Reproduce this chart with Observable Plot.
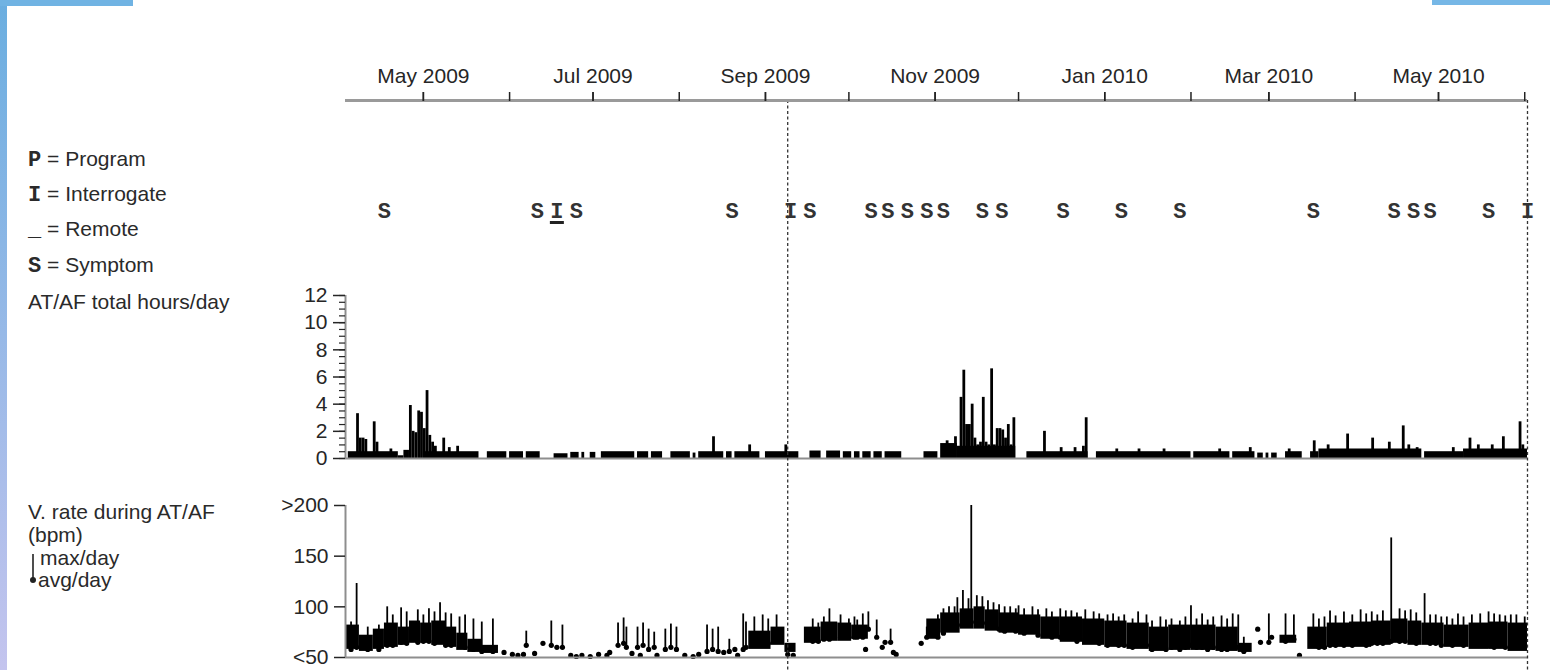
<!DOCTYPE html>
<html><head><meta charset="utf-8">
<script src="https://cdn.jsdelivr.net/npm/d3@7"></script>
<script src="https://cdn.jsdelivr.net/npm/@observablehq/plot@0.6"></script>
<style>
body{margin:0;background:#fff;}
#root{position:relative;width:1550px;height:670px;overflow:hidden;background:#fff;font-family:"Liberation Sans",Arial,sans-serif;color:#2a2a2a;}
#root svg{position:absolute;left:0;overflow:visible;}
.lg{position:absolute;font-size:21px;line-height:22px;white-space:nowrap;}
.mono{font-family:"Liberation Mono",monospace;font-weight:bold;font-size:22px;}
.bar{position:absolute;}
</style></head>
<body><div id="root">
<div class="bar" style="left:0;top:0;width:7px;height:670px;background:linear-gradient(#6aaee0,#c4c4ee);"></div>
<div class="bar" style="left:0;top:0;width:133px;height:6px;background:#70b3e3;"></div>
<div class="bar" style="left:1432px;top:0;width:118px;height:5px;background:#76b7e6;"></div>
<div class="lg" style="left:28px;top:148px;"><span class="mono">P</span> = Program</div>
<div class="lg" style="left:28px;top:183px;"><span class="mono">I</span> = Interrogate</div>
<div class="lg" style="left:28px;top:218px;"><span class="mono">_</span> = Remote</div>
<div class="lg" style="left:28px;top:254px;"><span class="mono">S</span> = Symptom</div>
<div class="lg" style="left:28px;top:291px;">AT/AF total hours/day</div>
<div class="lg" style="left:28px;top:501px;">V. rate during AT/AF</div>
<div class="lg" style="left:28px;top:524px;">(bpm)</div>
<div class="lg" style="left:40px;top:547px;">max/day</div>
<div class="lg" style="left:38px;top:569px;">avg/day</div>
<svg style="position:absolute;left:26px;top:550px;overflow:visible" width="14" height="40"><line x1="7" y1="4" x2="7" y2="30" stroke="#222" stroke-width="1.6"/><circle cx="7" cy="30" r="3" fill="#222"/></svg>
</div>
<script>
// ---------- data ----------
const startDate = "2009-04-03", endDate = "2010-06-02";
const monthTicks = ["2009-05-01","2009-06-01","2009-07-01","2009-08-01","2009-09-01","2009-10-01","2009-11-01","2009-12-01","2010-01-01","2010-02-01","2010-03-01","2010-04-01","2010-05-01","2010-06-01"];
const labelMonths = ["2009-05-01","2009-07-01","2009-09-01","2009-11-01","2010-01-01","2010-03-01","2010-05-01"];
const interrogations = ["2009-09-09","2010-06-02"];
const events = [
 ["2009-04-17","S"],["2009-06-11","S"],["2009-06-18","I"],["2009-06-25","S"],["2009-08-20","S"],
 ["2009-09-10","I"],["2009-09-17","S"],["2009-10-09","S"],["2009-10-15","S"],["2009-10-22","S"],
 ["2009-10-29","S"],["2009-11-04","S"],["2009-11-18","S"],["2009-11-25","S"],["2009-12-17","S"],
 ["2010-01-07","S"],["2010-01-28","S"],["2010-03-17","S"],["2010-04-15","S"],["2010-04-22","S"],
 ["2010-04-28","S"],["2010-05-19","S"],["2010-06-02","I"]
];
const remoteSessions = ["2009-06-18"];

const atafTicks = [0,2,4,6,8,10,12];
const atafMinorTicks = [0,0.5,1,1.5,2,2.5,3,3.5,4,4.5,5,5.5,6,6.5,7,7.5,8,8.5,9,9.5,10,10.5,11,11.5,12];
const atafBands = [
 ["2009-04-04","2009-04-22",0.5],["2009-04-22","2009-04-24",0.2],["2009-04-24","2009-04-26",0.6],
 ["2009-05-01","2009-05-21",0.5],["2009-05-24","2009-05-31",0.5],["2009-06-01","2009-06-06",0.5],
 ["2009-06-07","2009-06-12",0.5],["2009-06-17","2009-06-22",0.35],["2009-06-23","2009-06-26",0.45],
 ["2009-06-27","2009-06-28",0.45],["2009-06-30","2009-07-02",0.45],["2009-07-04","2009-07-16",0.5],
 ["2009-07-17","2009-07-21",0.5],["2009-07-22","2009-07-26",0.5],["2009-07-29","2009-08-05",0.5],
 ["2009-08-06","2009-08-07",0.4],["2009-08-08","2009-08-17",0.5],["2009-08-18","2009-08-20",0.5],
 ["2009-08-21","2009-08-30",0.5],["2009-09-01","2009-09-13",0.5],["2009-09-17","2009-09-21",0.55],
 ["2009-09-23","2009-09-28",0.55],["2009-09-29","2009-10-02",0.5],["2009-10-03","2009-10-05",0.5],
 ["2009-10-06","2009-10-09",0.5],["2009-10-10","2009-10-13",0.5],["2009-10-14","2009-10-20",0.5],
 ["2009-10-28","2009-11-02",0.5],["2009-11-03","2009-11-09",1.1],["2009-11-09","2009-11-30",0.9],
 ["2009-12-04","2009-12-26",0.5],["2009-12-29","2010-02-01",0.5],["2010-02-02","2010-02-15",0.5],
 ["2010-02-16","2010-02-24",0.5],["2010-02-25","2010-02-27",0.4],["2010-02-28","2010-03-01",0.4],
 ["2010-03-02","2010-03-04",0.4],["2010-03-07","2010-03-13",0.5],["2010-03-16","2010-03-19",0.5],
 ["2010-03-19","2010-04-25",0.7],["2010-04-26","2010-05-10",0.5],["2010-05-10","2010-06-02",0.7]
];
const atafSpikes = [
 ["2009-04-07",3.3],["2009-04-08",1.5],["2009-04-09",1.5],["2009-04-10",1.4],["2009-04-13",2.7],["2009-04-14",1.2],["2009-04-19",0.7],
 ["2009-04-26",3.9],["2009-04-27",2.0],["2009-04-28",1.9],["2009-04-29",3.5],["2009-04-30",3.4],["2009-05-01",2.2],["2009-05-02",5.0],
 ["2009-05-03",1.7],["2009-05-04",1.2],["2009-05-05",0.9],["2009-05-08",1.5],["2009-05-10",0.8],["2009-05-13",0.9],
 ["2009-08-13",1.6],["2009-08-26",1.0],["2009-09-08",1.0],
 ["2009-11-05",1.3],["2009-11-08",1.6],["2009-11-10",4.5],["2009-11-11",6.5],["2009-11-12",2.5],["2009-11-13",2.5],
 ["2009-11-14",4.0],["2009-11-15",1.5],["2009-11-16",1.0],["2009-11-17",1.2],["2009-11-18",4.5],["2009-11-19",1.2],
 ["2009-11-20",1.0],["2009-11-21",6.6],["2009-11-22",1.0],["2009-11-23",2.2],["2009-11-24",2.2],["2009-11-25",2.1],
 ["2009-11-26",1.5],["2009-11-27",2.5],["2009-11-28",1.0],["2009-11-29",3.0],
 ["2009-12-10",2.0],["2009-12-16",0.8],["2009-12-21",0.8],["2009-12-24",0.9],["2009-12-25",3.0],
 ["2010-01-05",0.7],["2010-01-13",0.7],["2010-01-22",0.7],["2010-02-11",0.7],["2010-02-22",0.8],["2010-03-08",0.7],["2010-03-17",1.3],
 ["2010-03-22",1.0],["2010-03-29",1.8],["2010-04-07",1.5],["2010-04-13",1.2],["2010-04-18",2.4],["2010-04-20",1.0],["2010-04-23",0.8],
 ["2010-05-06",0.8],["2010-05-12",1.5],["2010-05-15",1.0],["2010-05-20",1.0],["2010-05-24",1.6],["2010-05-30",2.7],["2010-05-31",1.0]
];

const vTicks = [200,150,100,50];
const vTickLabels = [">200","150","100","<50"];
// dense periods: [start, end, typical avg (low edge), typical max (high edge)]
const vBands = [
 ["2009-04-03","2009-04-08",58,82],["2009-04-08","2009-04-13",56,72],["2009-04-13","2009-04-17",58,78],
 ["2009-04-17","2009-04-22",60,84],["2009-04-22","2009-04-26",62,80],["2009-04-26","2009-04-30",64,86],
 ["2009-04-30","2009-05-04",64,84],["2009-05-04","2009-05-09",62,86],["2009-05-09","2009-05-13",60,80],
 ["2009-05-13","2009-05-17",57,74],["2009-05-17","2009-05-22",55,68],["2009-05-22","2009-05-28",54,62],
 ["2009-08-26","2009-09-03",58,76],["2009-09-03","2009-09-08",62,80],["2009-09-08","2009-09-12",55,64],
 ["2009-09-15","2009-09-21",64,80],["2009-09-21","2009-09-27",66,85],["2009-09-27","2009-10-02",66,84],
 ["2009-10-02","2009-10-08",68,82],
 ["2009-10-29","2009-11-03",68,88],["2009-11-03","2009-11-10",74,94],["2009-11-10","2009-11-15",78,98],
 ["2009-11-15","2009-11-19",78,100],["2009-11-19","2009-11-24",76,97],["2009-11-24","2009-12-01",74,94],
 ["2009-12-01","2009-12-09",72,92],["2009-12-09","2009-12-16",68,90],["2009-12-16","2009-12-24",65,90],
 ["2009-12-24","2010-01-01",62,88],["2010-01-01","2010-01-09",60,86],["2010-01-09","2010-01-17",58,84],
 ["2010-01-17","2010-01-24",56,80],["2010-01-24","2010-02-01",57,82],["2010-02-01","2010-02-10",57,82],
 ["2010-02-10","2010-02-18",56,80],["2010-02-18","2010-02-23",55,64],
 ["2010-03-05","2010-03-11",64,72],["2010-03-15","2010-03-22",58,80],["2010-03-22","2010-03-30",60,84],
 ["2010-03-30","2010-04-07",60,85],["2010-04-07","2010-04-14",62,86],["2010-04-14","2010-04-20",64,88],
 ["2010-04-20","2010-04-25",62,86],["2010-04-25","2010-05-03",62,84],["2010-05-03","2010-05-12",60,82],
 ["2010-05-12","2010-05-19",58,84],["2010-05-19","2010-05-26",58,85],["2010-05-26","2010-06-02",56,84]
];
// single days: [date, avg, max]
const vSpikes = [
 ["2009-04-05",58,85],["2009-04-07",60,123],["2009-04-11",58,80],["2009-04-15",58,82],["2009-04-18",62,100],
 ["2009-04-20",62,92],["2009-04-23",65,99],["2009-04-25",64,95],["2009-04-29",65,97],["2009-05-01",66,92],
 ["2009-05-03",66,98],["2009-05-05",64,95],["2009-05-07",66,104],["2009-05-09",62,94],["2009-05-11",62,93],
 ["2009-05-14",62,90],["2009-05-16",60,92],["2009-05-19",58,88],["2009-05-22",56,85],["2009-05-26",56,88],
 ["2009-06-07",62,76],["2009-06-16",62,86],["2009-06-20",60,82],
 ["2009-07-10",62,84],["2009-07-12",64,89],["2009-07-13",60,80],["2009-07-17",60,80],["2009-07-19",62,84],
 ["2009-07-21",58,78],["2009-07-23",60,75],["2009-07-27",58,78],["2009-07-29",60,83],["2009-07-31",58,80],
 ["2009-08-11",56,82],["2009-08-13",58,78],["2009-08-15",56,80],["2009-08-19",56,68],["2009-08-24",58,93],
 ["2009-08-25",60,85],["2009-08-28",62,90],["2009-08-31",62,92],["2009-09-02",64,88],["2009-09-05",66,92],
 ["2009-09-18",66,88],["2009-09-20",66,84],["2009-09-22",68,90],["2009-09-24",68,98],["2009-09-28",70,92],
 ["2009-10-01",70,88],["2009-10-03",70,90],["2009-10-04",70,87],["2009-10-06",70,93],["2009-10-08",78,95],
 ["2009-10-11",70,87],["2009-10-16",65,78],["2009-10-29",70,80],
 ["2009-11-02",70,92],["2009-11-04",74,98],["2009-11-06",80,100],["2009-11-08",78,100],["2009-11-09",82,109],
 ["2009-11-11",85,116],["2009-11-13",84,108],["2009-11-14",85,205],["2009-11-16",85,111],["2009-11-18",84,110],
 ["2009-11-20",82,106],["2009-11-22",80,104],["2009-11-24",78,102],["2009-11-26",76,100],["2009-11-28",80,100],
 ["2009-11-30",76,98],["2009-12-01",78,101],["2009-12-03",74,98],["2009-12-06",76,100],["2009-12-08",72,97],
 ["2009-12-11",72,98],["2009-12-13",70,95],["2009-12-16",70,98],["2009-12-18",70,96],["2009-12-20",70,96],
 ["2009-12-22",66,94],["2009-12-25",68,97],["2009-12-28",66,95],["2009-12-30",64,93],["2010-01-02",62,92],
 ["2010-01-04",64,93],["2010-01-06",62,90],["2010-01-08",62,92],["2010-01-11",60,88],["2010-01-13",62,95],
 ["2010-01-16",62,92],["2010-01-18",58,86],["2010-01-21",60,90],["2010-01-23",58,87],["2010-01-25",60,88],
 ["2010-01-28",58,86],["2010-01-30",60,90],["2010-02-01",62,101],["2010-02-03",60,88],["2010-02-05",60,93],
 ["2010-02-07",58,87],["2010-02-09",60,90],["2010-02-12",58,91],["2010-02-14",58,88],["2010-02-16",60,93],
 ["2010-02-18",60,92],["2010-02-20",56,70],["2010-03-01",65,93],["2010-03-07",66,93],["2010-03-10",68,92],
 ["2010-03-17",62,93],["2010-03-19",60,88],["2010-03-21",60,90],["2010-03-23",62,96],["2010-03-25",62,91],
 ["2010-03-28",62,95],["2010-03-31",62,92],["2010-04-03",64,97],["2010-04-05",62,93],["2010-04-07",64,95],
 ["2010-04-09",64,92],["2010-04-11",64,96],["2010-04-14",66,168],["2010-04-17",66,98],["2010-04-19",66,96],
 ["2010-04-21",66,97],["2010-04-23",64,94],["2010-04-26",68,113],["2010-04-28",64,92],["2010-04-30",64,92],
 ["2010-05-02",62,90],["2010-05-04",64,90],["2010-05-06",62,88],["2010-05-08",64,93],["2010-05-10",62,90],
 ["2010-05-13",62,92],["2010-05-16",62,93],["2010-05-19",62,95],["2010-05-21",60,93],["2010-05-23",62,92],
 ["2010-05-25",60,91],["2010-05-27",62,92],["2010-05-29",60,92],["2010-06-01",60,90]
];
// isolated daily averages
const vDots = [
 ["2009-05-30",55],["2009-06-02",53],["2009-06-04",52],["2009-06-06",53],["2009-06-10",54],["2009-06-13",64],
 ["2009-06-18",60],["2009-06-23",52],["2009-06-25",51],["2009-06-27",52],["2009-06-30",51],["2009-07-03",53],
 ["2009-07-06",52],["2009-07-07",55],["2009-07-15",54],["2009-07-18",52],["2009-07-24",52],["2009-08-03",52],
 ["2009-08-06",51],["2009-08-08",53],["2009-08-17",55],["2009-08-21",58],["2009-08-22",52],["2009-09-09",53],
 ["2009-09-11",52],["2009-10-07",58],["2009-10-13",60],["2009-10-14",65],["2009-10-17",55],["2009-10-18",53],
 ["2009-10-27",64],["2010-02-25",78],["2010-02-26",65],["2010-03-02",70],["2010-03-12",52]
];

// ---------- build ----------
const P = s => new Date(s);
const X0 = P(startDate), X1 = P(endDate);
const xScale = {type: "utc", domain: [X0, X1]};
const W = 1550, ML = 345, MR = 23;
const sans = "Liberation Sans, Arial, sans-serif";
const mono = "Liberation Mono, Courier New, monospace";
const baseStyle = {background: "transparent", color: "#262626", fontFamily: sans, fontSize: "21px", overflow: "visible"};
const underline = {draw(ctx) { ctx.moveTo(-7, -1.5); ctx.lineTo(7, -1.5); ctx.lineTo(7, 1.5); ctx.lineTo(-7, 1.5); ctx.closePath(); }};

const evData = events.map(([d, c]) => ({date: P(d), code: c}));
const bandsA = atafBands.map(([s, e, h]) => ({start: P(s), end: P(e), hours: h}));
const spikesA = atafSpikes.map(([d, h]) => ({start: P(d), end: d3.utcDay.offset(P(d), 1), hours: h}));
const bandsV = vBands.map(([s, e, lo, hi]) => ({start: P(s), end: P(e), lo, hi}));
const spikesV = vSpikes.map(([d, lo, hi]) => ({date: P(d), lo, hi}));
const dotsV = vDots.map(([d, a]) => ({date: P(d), avg: a}));

const root = document.getElementById("root");

// top axis, event row, interrogation lines
const overlay = Plot.plot({
  width: W, height: 670, marginLeft: ML, marginRight: MR, marginTop: 100, marginBottom: 0,
  x: xScale, y: {domain: [0, 1], axis: null, label: null},
  style: baseStyle,
  marks: [
    Plot.ruleX(interrogations.map(P), {stroke: "#333", strokeWidth: 1.3, strokeDasharray: "3,2.5"}),
    Plot.ruleY([1], {stroke: "#9a9a9a", strokeWidth: 3}),
    Plot.axisX({ticks: monthTicks.map(P), anchor: "top", tickSize: 9, tickFormat: () => "", strokeWidth: 1.5, stroke: "#222", label: null}),
    Plot.axisX({ticks: labelMonths.map(P), anchor: "top", tickSize: 9, tickPadding: 9, tickFormat: "%b %Y", fontSize: 21, strokeWidth: 1.5, stroke: "#222", label: null}),
    Plot.text(evData, {x: "date", text: "code", frameAnchor: "top", dy: 102, fontFamily: mono, fontWeight: "bold", fontSize: 22, fill: "#333"}),
    Plot.dot(remoteSessions.map(P), {x: d => d, frameAnchor: "top", dy: 122, symbol: underline, fill: "#222", stroke: "none"})
  ]
});
overlay.style.top = "0px";

// AT/AF total hours/day
const ataf = Plot.plot({
  width: W, height: 190, marginLeft: ML, marginRight: MR, marginTop: 15, marginBottom: 12,
  x: {...xScale, axis: null}, y: {domain: [0, 12], axis: null, label: null},
  style: baseStyle,
  marks: [
    Plot.rect(bandsA, {x1: "start", x2: "end", y1: 0, y2: "hours", fill: "#000"}),
    Plot.rect(spikesA, {x1: "start", x2: "end", y1: 0, y2: "hours", fill: "#000"}),
    Plot.ruleY([0], {stroke: "#8e8e8e", strokeWidth: 2}),
    Plot.ruleX([X0], {stroke: "#8e8e8e", strokeWidth: 2}),
    Plot.axisY({ticks: atafMinorTicks, anchor: "left", tickSize: 6, tickFormat: () => "", strokeWidth: 1.2, label: null}),
    Plot.axisY({ticks: atafTicks, anchor: "left", tickSize: 12, tickPadding: 6, fontSize: 21, strokeWidth: 1.5, label: null})
  ]
});
ataf.style.top = "280px";

// Ventricular rate during AT/AF
const vrate = Plot.plot({
  width: W, height: 180, marginLeft: ML, marginRight: MR, marginTop: 15, marginBottom: 13,
  x: {...xScale, axis: null}, y: {domain: [50, 200], clamp: true, axis: null, label: null},
  style: baseStyle,
  marks: [
    Plot.rect(bandsV, {x1: "start", x2: "end", y1: "lo", y2: "hi", fill: "#000"}),
    Plot.ruleX(spikesV, {x: "date", y1: "lo", y2: "hi", stroke: "#000", strokeWidth: 1.8}),
    Plot.dot(spikesV, {x: "date", y: "lo", r: 2.6, fill: "#000"}),
    Plot.dot(dotsV, {x: "date", y: "avg", r: 2.6, fill: "#000"}),
    Plot.ruleY([50], {stroke: "#8e8e8e", strokeWidth: 2}),
    Plot.ruleX([X0], {y1: 50, y2: 200, stroke: "#8e8e8e", strokeWidth: 2}),
    Plot.axisY({ticks: vTicks, anchor: "left", tickSize: 11, tickPadding: 6, fontSize: 21, strokeWidth: 1.5, label: null,
      tickFormat: d => vTickLabels[vTicks.indexOf(d)]})
  ]
});
vrate.style.top = "490px";

root.appendChild(ataf);
root.appendChild(vrate);
root.appendChild(overlay);
</script>
</body></html>
